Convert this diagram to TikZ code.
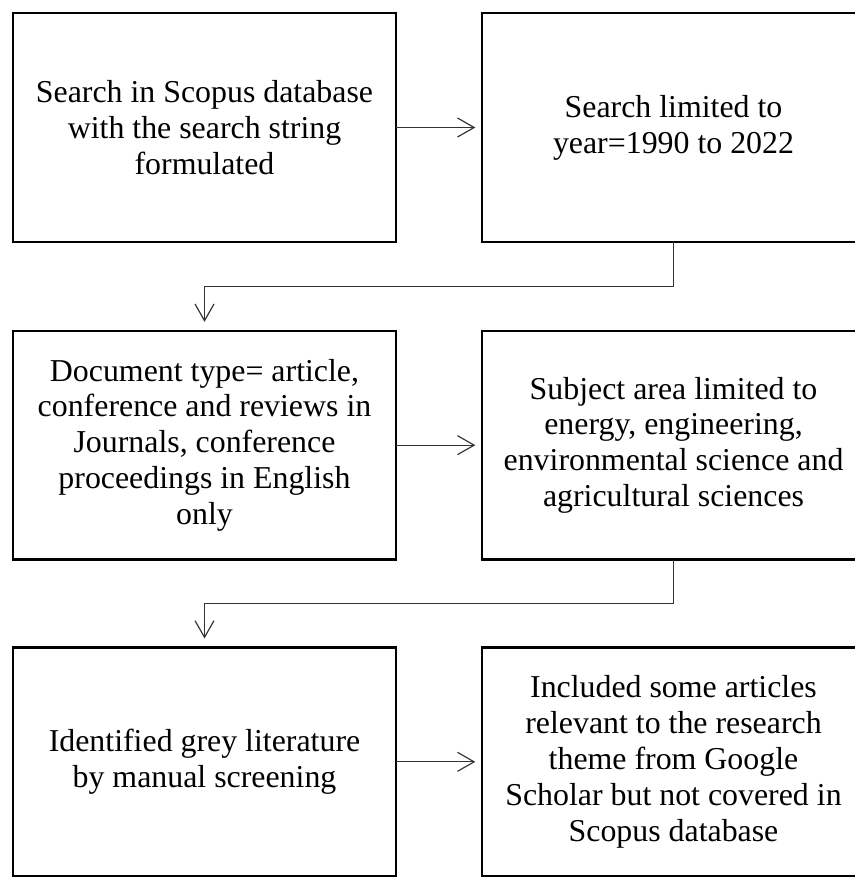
\documentclass[tikz,border=0pt]{standalone}
\usepackage{fontspec}
\setmainfont{Liberation Serif}
\usetikzlibrary{arrows.meta,positioning}

\begin{document}
\begin{tikzpicture}[
  font=\fontsize{27.2}{30.6}\selectfont,
  >={Straight Barb[length=0.5cm,width=0.57cm]},
  stagebox/.style={draw, line width=2pt, minimum width=11.49cm, minimum height=6.86cm,
    align=center, inner sep=0pt, outer sep=0pt},
  flow/.style={->, line width=1pt, black!80},
  flowin/.style={flow, shorten >=0.2cm},
  flowdown/.style={flow, shorten >=0.27cm}
]
\useasboundingbox (0,0) rectangle (25.62,-26.31);

\node[stagebox] (search) at (6.135,-3.825) {Search in Scopus database\\with the search string\\formulated};
\node[stagebox, right=2.58cm of search] (years) {Search limited to\\year=1990 to 2022};
\node[stagebox, below=2.67cm of search] (doctype) {Document type= article,\\conference and reviews in\\Journals, conference\\proceedings in English\\only};
\node[stagebox, right=2.58cm of doctype] (subject) {Subject area limited to\\energy, engineering,\\environmental science and\\agricultural sciences};
\node[stagebox, below=2.64cm of doctype] (grey) {Identified grey literature\\by manual screening};
\node[stagebox, right=2.58cm of grey] (scholar) {Included some articles\\relevant to the research\\theme from Google\\Scholar but not covered in\\Scopus database};

\draw[flowin] (search) -- (years);
\draw[flowdown] (years.south) -- ++(0,-1.33) -| (doctype.north);
\draw[flowin] (doctype) -- (subject);
\draw[flowdown] (subject.south) -- ++(0,-1.32) -| (grey.north);
\draw[flowin] (grey) -- (scholar);
\end{tikzpicture}
\end{document}
